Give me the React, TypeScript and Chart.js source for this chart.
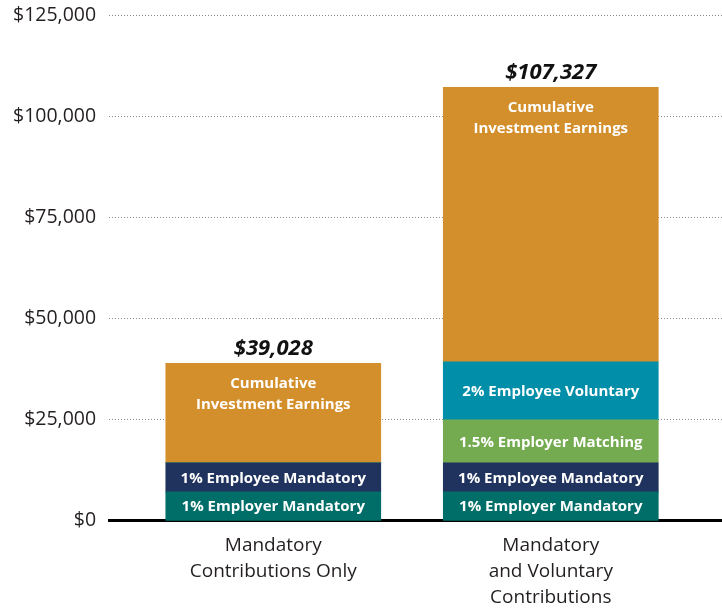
import React, { useEffect, useRef } from "react";
import { Chart, registerables } from "chart.js";

Chart.register(...registerables);

const categories: string[][] = [
  ["Mandatory", "Contributions Only"],
  ["Mandatory", "and Voluntary", "Contributions"],
];
const employerMandatory = [7200, 7200];
const employeeMandatory = [7200, 7200];
const employerMatching = [0, 10600];
const employeeVoluntary = [0, 14400];
const investmentEarnings = [24628, 67927];
const totals = [39028, 107327];
const yTicks = [0, 25000, 50000, 75000, 100000, 125000];

const seriesNames = [
  ["1% Employer Mandatory"],
  ["1% Employee Mandatory"],
  ["1.5% Employer Matching"],
  ["2% Employee Voluntary"],
  ["Cumulative", "Investment Earnings"],
];
const seriesColors = ["#006e68", "#1f335e", "#74ab50", "#008ea8", "#d48f2d"];

const FONT = "'Open Sans', 'Noto Sans', sans-serif";

const fmt = (v: number) => "$" + v.toLocaleString("en-US");

const labelPlugin = {
  id: "segLabels",
  afterDatasetsDraw(chart: any) {
    const ctx = chart.ctx;
    ctx.save();
    ctx.textAlign = "center";
    ctx.textBaseline = "middle";
    chart.data.datasets.forEach((ds: any, di: number) => {
      const meta = chart.getDatasetMeta(di);
      meta.data.forEach((el: any, i: number) => {
        const v = ds.data[i].y;
        if (!v) return;
        const lines = seriesNames[di];
        ctx.fillStyle = "#ffffff";
        ctx.font = `bold 15px ${FONT}`;
        const top = Math.min(el.y, el.base);
        const bottom = Math.max(el.y, el.base);
        if (lines.length > 1) {
          ctx.fillText(lines[0], el.x, top + 20);
          ctx.fillText(lines[1], el.x, top + 41);
        } else {
          ctx.fillText(lines[0], el.x, (top + bottom) / 2 + 1);
        }
      });
    });
    const lastMeta = chart.getDatasetMeta(chart.data.datasets.length - 1);
    lastMeta.data.forEach((el: any, i: number) => {
      ctx.fillStyle = "#111111";
      ctx.font = `italic bold 22px ${FONT}`;
      ctx.fillText(fmt(totals[i]), el.x, el.y - 15);
    });
    ctx.restore();
  },
};

export default function App() {
  const ref = useRef<HTMLCanvasElement>(null);
  useEffect(() => {
    const mk = (arr: number[]) => arr.map((v, i) => ({ x: i, y: v }));
    const seriesData = [
      employerMandatory,
      employeeMandatory,
      employerMatching,
      employeeVoluntary,
      investmentEarnings,
    ];
    const chart = new Chart(ref.current as HTMLCanvasElement, {
      type: "bar",
      data: {
        datasets: seriesData.map((arr, i) => ({
          label: seriesNames[i].join(" "),
          data: mk(arr),
          backgroundColor: seriesColors[i],
          borderWidth: 0,
          barThickness: 215,
        })) as any,
      },
      options: {
        animation: false,
        responsive: true,
        maintainAspectRatio: false,
        layout: { padding: { left: 0, top: 15, right: 0, bottom: -12 } },
        plugins: { legend: { display: false }, tooltip: { enabled: false } },
        scales: {
          x: {
            type: "linear",
            min: -0.5917,
            max: 1.617,
            offset: false,
            stacked: true,
            grid: { display: false, drawTicks: false },
            border: { display: true, color: "#000000", width: 3 },
            afterBuildTicks: (axis: any) => {
              axis.ticks = categories.map((_, i) => ({ value: i }));
            },
            ticks: {
              callback: (v: any) => categories[v] ?? "",
              font: { family: FONT, size: 19, lineHeight: 1.37 },
              color: "#231f20",
              padding: 12,
              maxRotation: 0,
              autoSkip: false,
            },
          },
          y: {
            stacked: true,
            min: 0,
            max: 125000,
            afterBuildTicks: (axis: any) => {
              axis.ticks = yTicks.map((v) => ({ value: v }));
            },
            ticks: {
              callback: (v: any) => fmt(Number(v)),
              font: { family: FONT, size: 19.5, lineHeight: 0.3 },
              color: "#231f20",
              padding: 13,
            },
            grid: {
              drawTicks: false,
              color: (c: any) => (c.tick && c.tick.value === 0 ? "rgba(0,0,0,0)" : "#8a8a8a"),
              lineWidth: 1,
            },
            border: { display: false, dash: [1, 2] },
          },
        } as any,
      },
      plugins: [labelPlugin],
    });
    return () => chart.destroy();
  }, []);
  return (
    <div style={{ position: "fixed", left: 0, top: 0, width: 722, height: 611, background: "#fff" }}>
      <canvas ref={ref} />
    </div>
  );
}
